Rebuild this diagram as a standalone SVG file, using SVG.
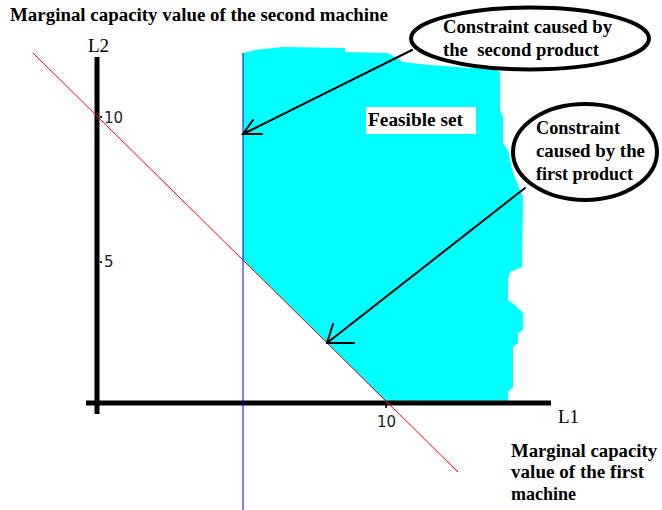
<svg xmlns="http://www.w3.org/2000/svg" width="662" height="510" viewBox="0 0 662 510">
<style>
.t{font-family:"Liberation Serif","DejaVu Serif",serif;font-weight:700;font-size:18px;fill:#000;white-space:pre}
.r{font-family:"Liberation Serif","DejaVu Serif",serif;font-size:19px;fill:#000}
.n{font-family:"DejaVu Sans",sans-serif;font-size:15px;fill:#222}
.ax{stroke:#000;stroke-width:5;fill:none}
.ar{stroke:#000;stroke-width:2;fill:none;stroke-linecap:round}
.el{fill:#fff;stroke:#000;stroke-width:4}
</style>
<rect width="662" height="510" fill="#fff"/>
<g id="feasible-region">
<polygon fill="#00ffff" points="243,53 255,50 282,47 345,48 345,52 388,53 403,62 430,65 470,68 495,68 500,73 500,110 503,117 503,143 508,150 513,173 518,185 523,197 522,267 510,272 508,280 508,300 515,305 523,313 523,330 518,333 518,343 513,347 513,387 508,392 508,403 387,403 243,260"/>
</g>
<g id="axes">
<line class="ax" x1="97" y1="57" x2="97" y2="414"/>
<line class="ax" x1="86" y1="403" x2="551" y2="403"/>
<rect x="100" y="116" width="2" height="2" fill="#222"/>
<rect x="100" y="261" width="2" height="2" fill="#222"/>
<rect x="385" y="405" width="2" height="3" fill="#222"/>
<text class="r" x="88" y="52">L2</text>
<text class="r" x="558" y="423">L1</text>
<text class="n" x="104" y="123">10</text>
<text class="n" x="104" y="267">5</text>
<text class="n" x="377" y="427">10</text>
</g>
<g id="constraint-lines">
<line x1="243" y1="53" x2="243" y2="510" stroke="#0000ff" stroke-width="1"/>
<line x1="33" y1="53" x2="458" y2="472" stroke="#ff0000" stroke-width="1"/>
</g>
<g id="title">
<text class="t" x="10" y="21" textLength="378" lengthAdjust="spacingAndGlyphs">Marginal capacity value of the second machine</text>
</g>
<g id="feasible-label">
<rect x="366" y="107" width="110" height="27" fill="#fff"/>
<text class="t" x="368" y="126" textLength="95" lengthAdjust="spacingAndGlyphs">Feasible set</text>
</g>
<g id="second-product-note">
<ellipse class="el" cx="530" cy="38.5" rx="119" ry="31"/>
<text class="t" x="443" y="33" textLength="169" lengthAdjust="spacingAndGlyphs">Constraint caused by</text>
<text class="t" x="443" y="56" textLength="156" lengthAdjust="spacingAndGlyphs">the  second product</text>
</g>
<g id="first-product-note">
<ellipse class="el" cx="585" cy="152" rx="72" ry="48"/>
<text class="t" x="536" y="134" textLength="84" lengthAdjust="spacingAndGlyphs">Constraint</text>
<text class="t" x="536" y="157" textLength="109" lengthAdjust="spacingAndGlyphs">caused by the</text>
<text class="t" x="536" y="180" textLength="97" lengthAdjust="spacingAndGlyphs">first product</text>
</g>
<g id="l1-label">
<text class="t" x="511" y="457" textLength="146" lengthAdjust="spacingAndGlyphs">Marginal capacity</text>
<text class="t" x="511" y="478" textLength="133" lengthAdjust="spacingAndGlyphs">value of the first</text>
<text class="t" x="511" y="500" textLength="65" lengthAdjust="spacingAndGlyphs">machine</text>
</g>
<g id="connectors">
<path class="ar" d="M412,50 L243,134 M253,120 L243,134 L262,134"/>
<path class="ar" d="M525,188 L327,343 M333,324 L327,343 L354,343"/>
</g>
</svg>
